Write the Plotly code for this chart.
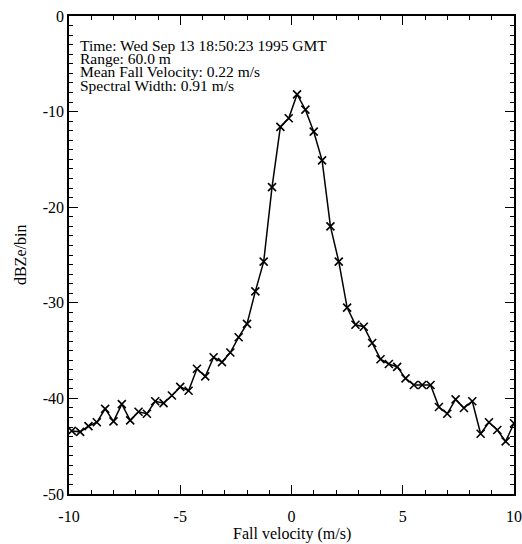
import plotly.graph_objects as go

velocity = [-9.875, -9.5, -9.125, -8.75, -8.375, -8.0, -7.625, -7.25, -6.875, -6.5,
            -6.125, -5.75, -5.375, -5.0, -4.625, -4.25, -3.875, -3.5, -3.125, -2.75,
            -2.375, -2.0, -1.625, -1.25, -0.875, -0.5, -0.125, 0.25, 0.625, 1.0,
            1.375, 1.75, 2.125, 2.5, 2.875, 3.25, 3.625, 4.0, 4.375, 4.75,
            5.125, 5.5, 5.875, 6.25, 6.625, 7.0, 7.375, 7.75, 8.125, 8.5,
            8.875, 9.25, 9.625, 10.0]
dbz = [-43.4, -43.5, -42.9, -42.5, -41.1, -42.4, -40.6, -42.3, -41.4, -41.6,
       -40.3, -40.5, -39.7, -38.8, -39.2, -36.9, -37.7, -35.7, -36.2, -35.2,
       -33.6, -32.2, -28.8, -25.7, -17.9, -11.6, -10.7, -8.2, -9.8, -12.1,
       -15.1, -22.0, -25.7, -30.5, -32.3, -32.5, -34.2, -35.9, -36.4, -36.7,
       -37.9, -38.6, -38.6, -38.6, -40.9, -41.6, -40.1, -41.0, -40.3, -43.7,
       -42.5, -43.3, -44.5, -42.6]

x_tickvals = [-10, -5, 0, 5, 10]
x_ticktext = ["-10", "-5", "0", "5", "10"]
y_tickvals = [-50, -40, -30, -20, -10, 0]
y_ticktext = ["-50", "-40", "-30", "-20", "-10", "0"]

x_title = "Fall velocity (m/s)"
y_title = "dBZe/bin"

info_lines = ["Time: Wed Sep 13 18:50:23 1995 GMT",
              "Range: 60.0 m",
              "Mean Fall Velocity: 0.22 m/s",
              "Spectral Width: 0.91 m/s"]
info_y = [-3.05, -4.45, -5.85, -7.3]

font = "Liberation Serif, Times New Roman, serif"

fig = go.Figure()
fig.add_trace(go.Scatter(
    x=velocity, y=dbz, mode="lines+markers",
    line=dict(color="black", width=1.5),
    marker=dict(symbol="x-thin-open", size=8, color="black",
                line=dict(color="black", width=1.6)),
    showlegend=False))

for txt, yy in zip(info_lines, info_y):
    fig.add_annotation(x=-9.58, y=yy, xref="x", yref="y", text=txt,
                       showarrow=False, xanchor="left", yanchor="middle",
                       font=dict(family=font, size=15.5, color="black"))

# axis titles placed in paper coordinates
fig.add_annotation(x=0.5, y=-0.084, xref="paper", yref="paper", text=x_title,
                   showarrow=False, xanchor="center", yanchor="middle",
                   font=dict(family=font, size=16, color="black"))
fig.add_annotation(x=-0.11, y=0.5, xref="paper", yref="paper", text=y_title,
                   showarrow=False, xanchor="center", yanchor="middle", textangle=-90,
                   font=dict(family=font, size=16, color="black"))

axis_common = dict(showgrid=False, zeroline=False, showline=True,
                   linecolor="black", linewidth=1.5, mirror="ticks",
                   ticks="inside", tickcolor="black", tickwidth=1,
                   automargin=False,
                   tickfont=dict(family=font, size=16, color="black"))

fig.update_xaxes(range=[-10, 10], tickvals=x_tickvals, ticktext=x_ticktext,
                 ticklen=9, ticklabelstandoff=7,
                 minor=dict(dtick=1, tick0=0, ticklen=4, ticks="inside", tickcolor="black"),
                 **axis_common)
fig.update_yaxes(range=[-50, 0], tickvals=y_tickvals, ticktext=y_ticktext,
                 ticklen=9,
                 minor=dict(dtick=1, tick0=0, ticklen=4, ticks="inside", tickcolor="black"),
                 **axis_common)

fig.update_layout(width=522, height=544,
                  margin=dict(l=69, r=8, t=16, b=50),
                  plot_bgcolor="white", paper_bgcolor="white",
                  font=dict(family=font, color="black"))

fig.write_html("out.html")
